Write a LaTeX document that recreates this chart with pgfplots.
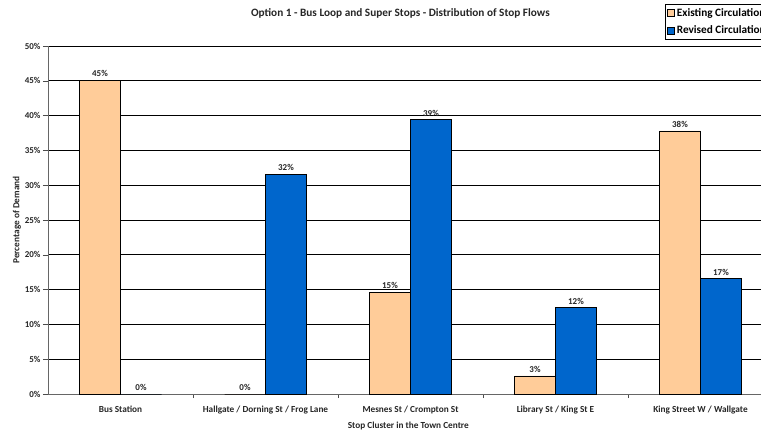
\documentclass[border=0pt]{standalone}
\usepackage{pgfplots}
\pgfplotsset{compat=1.18}
\usepackage{fontspec}
\setmainfont{Carlito}
\definecolor{existing}{HTML}{FFCC99}
\definecolor{revised}{HTML}{0066CC}
\begin{document}
\begin{tikzpicture}
\begin{axis}[
  at={(48bp,-394bp)}, anchor=south west,
  scale only axis, width=725bp, height=348bp,
  /pgf/number format/assume math mode=true,
  ybar=0pt, bar width=41bp,
  xmin=-0.5, xmax=4.5, ymin=0, ymax=50,
  xtick={0,1,2,3,4},
  xticklabels={Bus Station, Hallgate / Dorning St / Frog Lane, Mesnes St / Crompton St, Library St / King St E, King Street W / Wallgate},
  minor xtick={0.5,1.5,2.5,3.5,4.5},
  major x tick style={draw=none},
  minor x tick style={draw=black!70, thin},
  minor tick length=4bp, major tick length=5bp,
  tick align=outside,
  ytick={0,5,...,50},
  yticklabels={0\%,5\%,10\%,15\%,20\%,25\%,30\%,35\%,40\%,45\%,50\%},
  ymajorgrids, major grid style={black, line width=0.8pt},
  ytick style={draw=black!70, thin},
  axis x line*=bottom, axis y line*=left,
  axis line style={black!60, line width=1pt},
  tick label style={font=\fontsize{9}{10}\selectfont\bfseries, text=black!85},
  yticklabel style={xshift=1bp},
  xticklabel style={font=\fontsize{9.3}{11}\selectfont\bfseries, yshift=-3bp},
  title={Option 1 - Bus Loop and Super Stops - Distribution of Stop Flows},
  title style={at={(axis description cs:0.486,1.076)}, anchor=center, font=\fontsize{11.3}{13}\selectfont\bfseries, text=black!85},
  xlabel={Stop Cluster in the Town Centre},
  xlabel style={at={(axis description cs:0.497,-0.092)}, anchor=center, font=\fontsize{9.3}{11}\selectfont\bfseries, text=black!85},
  ylabel={Percentage of Demand},
  ylabel style={at={(axis description cs:-0.043,0.5)}, anchor=center, rotate=0, font=\fontsize{9.3}{11}\selectfont\bfseries, text=black!85},
  nodes near coords={\pgfmathprintnumber[fixed,precision=0]{\pgfplotspointmeta}\%},
  nodes near coords style={font=\fontsize{9}{10}\selectfont\bfseries, text=black!85, inner sep=3bp},
  legend style={at={(axis description cs:0.851,1.121)}, anchor=north west, draw=black, line width=0.8pt,
    font=\fontsize{11.3}{13}\selectfont\bfseries, row sep=4bp, inner sep=2bp, cells={anchor=west}},
  legend image code/.code={\draw[#1, draw=black, line width=0.5pt] (0bp,-3.5bp) rectangle (7bp,3.5bp);},
  clip=false,
]
\addplot[fill=existing, draw=black, line width=0.7pt] coordinates {(0,45.1) (1,0) (2,14.6) (3,2.6) (4,37.8)};
\addplot[fill=revised, draw=black, line width=0.7pt] coordinates {(0,0) (1,31.6) (2,39.4) (3,12.4) (4,16.6)};
\legend{Existing Circulation, Revised Circulation}
\end{axis}
\pgfresetboundingbox
\useasboundingbox (0,0) rectangle (761bp,-434bp);
\end{tikzpicture}
\end{document}
